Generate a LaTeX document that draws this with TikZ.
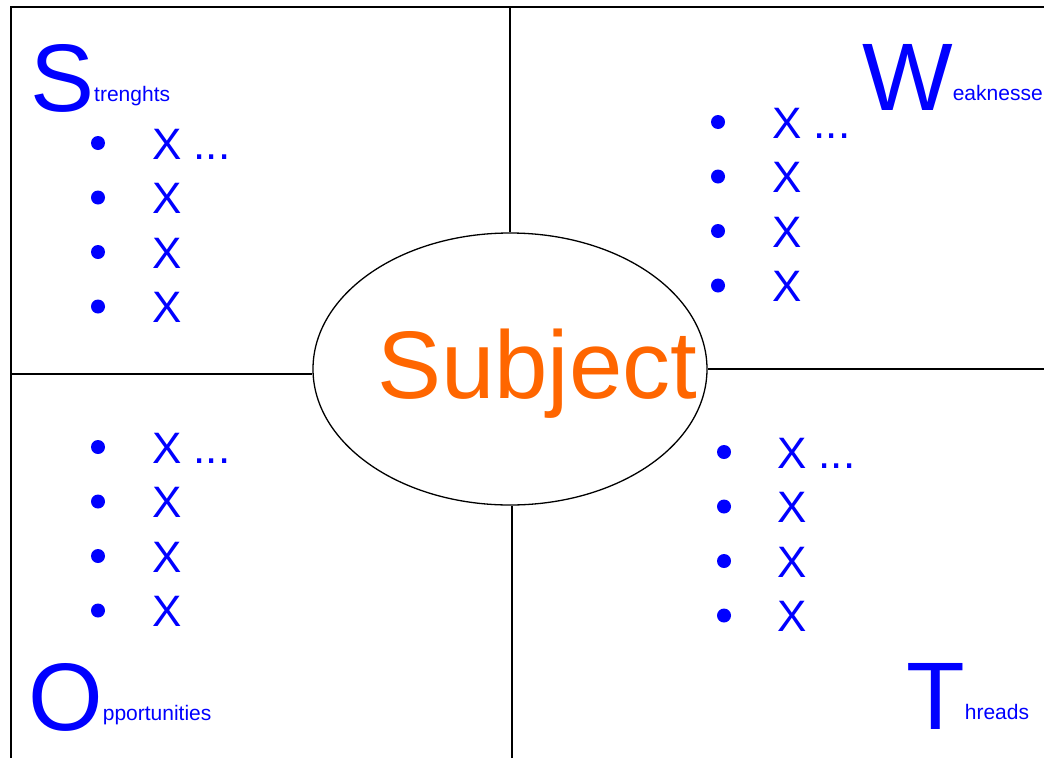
\documentclass[tikz,border=0pt]{standalone}
\usepackage{fontspec}
\setmainfont{Liberation Sans}
\usetikzlibrary{shapes.geometric}

\definecolor{swotblue}{RGB}{0,0,255}
\definecolor{subjorange}{RGB}{255,102,0}

% big initial letter with the rest of the word set small and raised
\newcommand{\swothead}[2]{\fontsize{96}{96}\selectfont #1%
  \fontsize{21}{21}\selectfont\raisebox{10pt}{#2}}

% one list of four items: name, bullet x, text x, first baseline
\newcommand{\swotlist}[4]{%
  \foreach \n/\t in {1/{X ...},2/X,3/X,4/X}{
    \node[dot] (#1dot\n) at (#2,{#4+(\n-1)*54.5-16}) {};
    \node[item] (#1item\n) at (#3,{#4+(\n-1)*54.5}) {\t};
  }}

\begin{document}
\begin{tikzpicture}
          [ x=1pt, y=-1pt,
            frame/.style={
              draw,
              line width=1.5pt},
            subjshape/.style={
              ellipse,
              draw,
              line width=1.3pt,
              minimum width=394pt,
              minimum height=272pt,
              inner sep=0pt},
            subjtext/.style={
              anchor=base west,
              inner sep=0pt,
              text=subjorange,
              font=\fontsize{96}{96}\selectfont},
            head/.style={
              anchor=base west,
              inner sep=0pt,
              text=swotblue},
            item/.style={
              anchor=base west,
              inner sep=0pt,
              text=swotblue,
              font=\fontsize{44}{44}\selectfont},
            dot/.style={
              circle,
              fill=swotblue,
              inner sep=0pt,
              minimum size=14pt},
          ]
          \useasboundingbox (0,0) rectangle (1044,758);

          % frame and quarters
          \coordinate (corner) at (11,7);
          \coordinate (topend) at (1044,7);
          \coordinate (leftend) at (11,758);
          \coordinate (topmid) at (510,7);
          \coordinate (botmid) at (512,758);
          \coordinate (leftmid) at (11,374);
          \coordinate (rightmid) at (1044,369);

          \draw[frame] (topend) -- (corner) -- (leftend);

          \node (subj) [subjshape] at (510,369) {};
          \node (subjlabel) [subjtext] at (377,398) {Subject};

          \draw[frame] (topmid) -- (topmid |- subj.north);
          \draw[frame] (botmid) -- (botmid |- subj.south);
          \draw[frame] (leftmid) -- (leftmid -| subj.west);
          \draw[frame] (rightmid) -- (rightmid -| subj.east);

          % headings
          \node (strength) [head] at (30,111) {\swothead{S}{trenghts}};
          \node (weakness) [head] at (862,110) {\swothead{W}{eaknesse}};
          \node (opportunity) [head] at (28,730) {\swothead{O}{pportunities}};
          \node (threat) [head] at (906,729) {\swothead{T}{hreads}};

          % lists
          \swotlist{s}{98}{152}{159}
          \swotlist{w}{718}{772}{138}
          \swotlist{o}{98}{152}{463}
          \swotlist{t}{724}{777}{468}

        \end{tikzpicture}
\end{document}
